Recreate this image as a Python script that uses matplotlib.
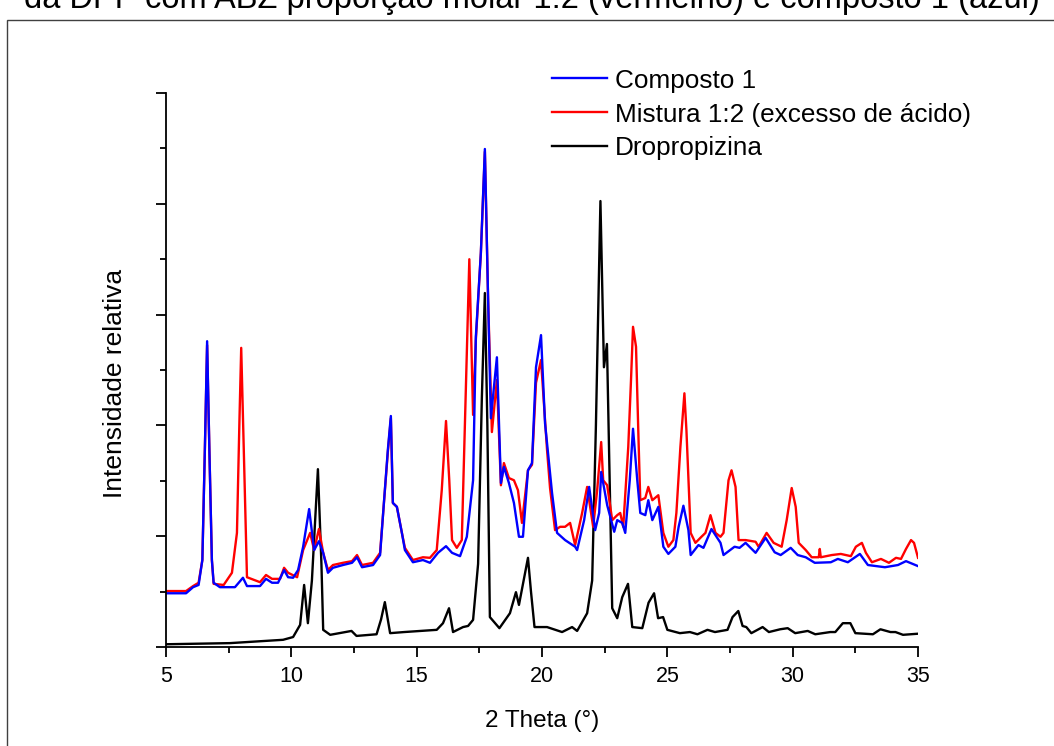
import matplotlib
matplotlib.use("Agg")
import matplotlib.pyplot as plt
from matplotlib.patches import Rectangle
from matplotlib.ticker import MultipleLocator, NullFormatter

plt.rcParams["font.family"] = ["Liberation Sans", "DejaVu Sans"]

# 2 Theta (deg) and relative intensity
theta_dpp = [5.04, 7.55, 9.67, 10.07, 10.35, 10.51, 10.66, 10.82, 11.06, 11.2,
             11.27, 11.55, 12.4, 12.6, 13.4, 13.58, 13.73, 13.94, 14.5, 15.8,
             16.05, 16.29, 16.45, 16.85, 17.05, 17.25, 17.45, 17.6, 17.72, 17.82,
             17.92, 18.3, 18.72, 18.96, 19.08, 19.44, 19.56, 19.7, 20.2, 20.8,
             21.2, 21.4, 21.8, 22.0, 22.15, 22.33, 22.47, 22.59, 22.8, 23.0,
             23.2, 23.43, 23.6, 24.0, 24.25, 24.47, 24.63, 24.83, 25.0, 25.5,
             25.9, 26.2, 26.6, 26.9, 27.4, 27.6, 27.83, 28.0, 28.15, 28.35,
             28.8, 29.05, 29.5, 29.8, 30.1, 30.6, 30.9, 31.5, 31.7, 32.0,
             32.3, 32.5, 33.2, 33.5, 33.9, 34.1, 34.4, 35.0]
int_dpp = [0.05, 0.07, 0.13, 0.18, 0.40, 1.12, 0.43, 1.20, 3.21, 1.50,
           0.31, 0.22, 0.29, 0.20, 0.23, 0.50, 0.81, 0.25, 0.27, 0.31,
           0.43, 0.70, 0.27, 0.36, 0.38, 0.49, 1.50, 4.50, 6.39, 4.00,
           0.54, 0.34, 0.61, 0.99, 0.76, 1.61, 1.00, 0.36, 0.36, 0.27,
           0.36, 0.29, 0.61, 1.20, 4.00, 8.05, 5.05, 5.47, 0.70, 0.52,
           0.90, 1.14, 0.36, 0.34, 0.80, 0.97, 0.52, 0.54, 0.31, 0.25,
           0.27, 0.23, 0.31, 0.27, 0.31, 0.54, 0.65, 0.38, 0.36, 0.25,
           0.36, 0.27, 0.32, 0.34, 0.25, 0.29, 0.23, 0.27, 0.27, 0.43,
           0.43, 0.25, 0.23, 0.32, 0.27, 0.27, 0.22, 0.24]

theta_mix = [5.04, 5.8, 6.08, 6.3, 6.45, 6.55, 6.64, 6.73, 6.83, 6.9,
             7.3, 7.63, 7.83, 7.93, 8.0, 8.07, 8.12, 8.23, 8.75, 8.99,
             9.23, 9.55, 9.71, 9.87, 10.23, 10.47, 10.75, 10.91, 11.1, 11.27,
             11.46, 11.66, 12.06, 12.42, 12.62, 12.82, 13.26, 13.54, 13.7, 13.85,
             13.97, 14.05, 14.21, 14.41, 14.53, 14.85, 15.25, 15.53, 15.8, 16.0,
             16.17, 16.3, 16.41, 16.6, 16.8, 16.95, 17.1, 17.25, 17.36, 17.56,
             17.72, 17.85, 18.0, 18.2, 18.36, 18.48, 18.68, 18.88, 19.04, 19.2,
             19.44, 19.6, 19.76, 19.96, 20.2, 20.32, 20.52, 20.72, 20.92, 21.12,
             21.32, 21.6, 21.8, 22.04, 22.2, 22.36, 22.44, 22.6, 22.8, 23.0,
             23.12, 23.24, 23.44, 23.55, 23.63, 23.75, 23.85, 23.92, 24.12, 24.24,
             24.4, 24.64, 24.84, 25.04, 25.24, 25.36, 25.52, 25.68, 25.76, 25.93,
             26.12, 26.36, 26.52, 26.72, 26.92, 27.12, 27.24, 27.44, 27.56, 27.72,
             27.84, 28.12, 28.52, 28.64, 28.96, 29.24, 29.56, 29.76, 29.96, 30.12,
             30.24, 30.52, 30.76, 31.04, 31.08, 31.12, 31.56, 31.92, 32.32, 32.52,
             32.76, 32.92, 33.16, 33.52, 33.84, 34.12, 34.32, 34.52, 34.72, 34.84,
             35.0]
int_mix = [1.01, 1.01, 1.10, 1.16, 1.57, 3.56, 5.45, 3.56, 1.57, 1.14,
           1.12, 1.34, 2.06, 4.10, 5.40, 4.10, 3.25, 1.26, 1.17, 1.30,
           1.23, 1.23, 1.43, 1.34, 1.26, 1.75, 2.06, 1.75, 2.13, 1.70,
           1.39, 1.48, 1.52, 1.55, 1.66, 1.48, 1.52, 1.70, 2.65, 3.52,
           4.13, 2.60, 2.53, 2.06, 1.79, 1.57, 1.62, 1.61, 1.75, 2.83,
           4.08, 3.01, 1.93, 1.79, 1.93, 4.46, 7.00, 4.19, 5.54, 7.11,
           8.94, 6.26, 3.88, 4.82, 2.92, 3.32, 3.05, 3.01, 2.83, 2.24,
           3.19, 3.29, 4.77, 5.18, 3.56, 2.87, 2.11, 2.17, 2.17, 2.24,
           1.84, 2.42, 2.89, 2.17, 2.83, 3.70, 3.01, 2.92, 2.29, 2.38,
           2.42, 2.17, 3.61, 4.82, 5.78, 5.42, 3.74, 2.65, 2.69, 2.89,
           2.65, 2.74, 2.06, 1.81, 1.93, 2.42, 3.61, 4.58, 3.92, 2.06,
           1.88, 1.99, 2.06, 2.38, 2.06, 1.99, 2.06, 3.01, 3.19, 2.89,
           1.93, 1.93, 1.90, 1.81, 2.06, 1.88, 1.81, 2.29, 2.87, 2.53,
           1.88, 1.75, 1.62, 1.62, 1.77, 1.62, 1.66, 1.68, 1.64, 1.81,
           1.88, 1.70, 1.53, 1.59, 1.52, 1.61, 1.59, 1.77, 1.93, 1.88,
           1.61]

theta_comp = [5.04, 5.8, 6.08, 6.3, 6.45, 6.55, 6.64, 6.73, 6.83, 6.9,
              7.15, 7.75, 8.07, 8.23, 8.75, 8.99, 9.23, 9.47, 9.71, 9.87,
              10.07, 10.27, 10.47, 10.71, 10.91, 11.1, 11.27, 11.46, 11.66, 12.06,
              12.42, 12.62, 12.82, 13.26, 13.54, 13.7, 13.85, 13.97, 14.05, 14.21,
              14.41, 14.53, 14.85, 15.25, 15.53, 15.85, 16.17, 16.41, 16.73, 17.0,
              17.25, 17.36, 17.56, 17.72, 17.85, 17.96, 18.2, 18.36, 18.48, 18.68,
              18.88, 19.08, 19.24, 19.44, 19.6, 19.76, 19.96, 20.12, 20.4, 20.6,
              20.92, 21.32, 21.4, 21.68, 21.88, 22.12, 22.28, 22.36, 22.6, 22.88,
              23.0, 23.2, 23.32, 23.5, 23.63, 23.8, 23.92, 24.12, 24.24, 24.4,
              24.64, 24.84, 25.04, 25.32, 25.45, 25.64, 25.84, 25.93, 26.24, 26.44,
              26.76, 27.12, 27.24, 27.68, 27.88, 28.12, 28.52, 28.92, 29.28, 29.52,
              29.92, 30.2, 30.52, 30.88, 31.52, 31.8, 32.2, 32.68, 33.0, 33.68,
              34.2, 34.52, 35.0]
int_comp = [0.97, 0.97, 1.08, 1.12, 1.57, 3.56, 5.52, 3.56, 1.57, 1.16,
            1.08, 1.08, 1.25, 1.10, 1.10, 1.23, 1.16, 1.16, 1.39, 1.26,
            1.25, 1.39, 1.81, 2.49, 1.75, 1.91, 1.70, 1.34, 1.43, 1.48,
            1.52, 1.62, 1.44, 1.48, 1.66, 2.65, 3.56, 4.17, 2.60, 2.53,
            2.06, 1.75, 1.53, 1.57, 1.52, 1.70, 1.82, 1.70, 1.64, 1.99,
            3.01, 5.60, 7.11, 8.99, 6.26, 4.13, 5.23, 2.96, 3.25, 2.96,
            2.60, 1.99, 1.99, 3.19, 3.32, 5.05, 5.63, 4.04, 2.78, 2.06,
            1.93, 1.81, 1.75, 2.29, 2.89, 2.11, 2.42, 3.16, 2.56, 2.08,
            2.29, 2.24, 2.06, 3.01, 3.94, 3.01, 2.42, 2.38, 2.65, 2.29,
            2.53, 1.81, 1.68, 1.81, 2.17, 2.55, 2.11, 1.66, 1.84, 1.79,
            2.13, 1.88, 1.66, 1.81, 1.79, 1.88, 1.70, 1.97, 1.71, 1.66,
            1.79, 1.66, 1.62, 1.52, 1.53, 1.59, 1.53, 1.68, 1.48, 1.44,
            1.48, 1.55, 1.46]

series_labels = ["Composto 1", "Mistura 1:2 (excesso de ácido)", "Dropropizina"]
title_text = "da DPP com ABZ proporção molar 1:2 (vermelho) e composto 1 (azul)"

fig = plt.figure(figsize=(10.54, 7.46), dpi=100)
ax = fig.add_axes([0.1575, 0.1327, 0.7135, 0.7426])

# draw black first so the blue composto ends up on top
l_dpp, = ax.plot(theta_dpp, int_dpp, color="black", lw=1.7)
l_mix, = ax.plot(theta_mix, int_mix, color="#ff0000", lw=1.7)
l_comp, = ax.plot(theta_comp, int_comp, color="#0000ff", lw=1.7)

ax.set_xlim(5, 35)
ax.set_ylim(0, 10)
ax.xaxis.set_major_locator(MultipleLocator(5))
ax.xaxis.set_minor_locator(MultipleLocator(2.5))
ax.yaxis.set_major_locator(MultipleLocator(2))
ax.yaxis.set_minor_locator(MultipleLocator(1))
ax.yaxis.set_major_formatter(NullFormatter())

for side in ["top", "right"]:
    ax.spines[side].set_visible(False)
for side in ["left", "bottom"]:
    ax.spines[side].set_linewidth(1.3)
ax.tick_params(which="major", direction="out", length=7.5, width=1.3,
               labelsize=15.5, pad=6)
ax.tick_params(which="minor", direction="out", length=4, width=1.3)

ax.set_xlabel("2 Theta (°)", fontsize=17.5, labelpad=17)
ax.set_ylabel("Intensidade relativa", fontsize=19)
ax.yaxis.set_label_coords(-0.052, 0.475)

ax.legend([l_comp, l_mix, l_dpp], series_labels, frameon=False, fontsize=18.8,
          loc="upper left", bbox_to_anchor=(0.524, 0.908),
          bbox_transform=fig.transFigure, handlelength=2.1,
          handletextpad=0.3, labelspacing=0.38, borderpad=0, borderaxespad=0)

# outer frame of the original slide, cut at right and bottom
frame = Rectangle((7 / 1054, -0.05), 1.1, 1 - 20 / 746 + 0.05,
                  transform=fig.transFigure, fill=False,
                  edgecolor="#404040", lw=1.0)
fig.add_artist(frame)
fig.text(0.505, 1 - 8 / 746, title_text, ha="center", va="baseline",
         fontsize=23.5)

fig.savefig("out.png", dpi=100)
